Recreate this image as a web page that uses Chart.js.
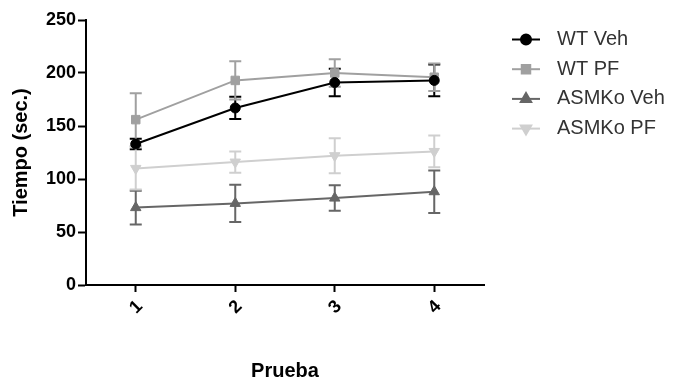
<!DOCTYPE html>
<html>
<head>
<meta charset="utf-8">
<script src="https://cdn.jsdelivr.net/npm/chart.js@4/dist/chart.umd.min.js"></script>
<style>
  html, body { margin: 0; padding: 0; background: #fff; }
  #wrap { width: 676px; height: 385px; position: relative; }
</style>
</head>
<body>
<div id="wrap"><canvas id="myChart"></canvas></div>
<script>
// trials (Prueba)
var pruebas = [1, 2, 3, 4]
var tickLabels = ["1", "2", "3", "4"]
var yTicks = [0, 50, 100, 150, 200, 250]

var seriesNames = ["WT Veh", "WT PF", "ASMKo Veh", "ASMKo PF"]

// mean time (sec.) and error per trial
var wtVeh = [133, 167, 191, 193]
var wtVehErr = [5, 10.5, 13, 15]
var wtPF = [156, 193, 200, 196]
var wtPFErr = [25, 18, 13, 13]
var asmVeh = [73, 77, 82, 88]
var asmVehErr = [16, 17.5, 12, 20]
var asmPF = [110, 116, 122, 126]
var asmPFErr = [20, 10, 16.5, 15]

const FONT = "'Liberation Sans', Arial, sans-serif"

const toPoints = (vals) => vals.map((v, i) => ({x: pruebas[i], y: v}))

const mkSet = (label, vals, errs, color, style, radius, rot) => ({
  label: label,
  data: toPoints(vals),
  errors: errs,
  borderColor: color,
  backgroundColor: color,
  pointBackgroundColor: color,
  pointBorderColor: color,
  pointStyle: style,
  pointRadius: radius,
  pointRotation: rot,
  pointBorderWidth: 1,
  borderWidth: 2,
  tension: 0,
  showLine: true
})

// vertical error bars with caps, drawn under the markers
const errorBars = {
  id: 'errorBars',
  beforeDatasetsDraw(chart) {
    const ctx = chart.ctx
    const ys = chart.scales.y
    chart.data.datasets.forEach((ds, di) => {
      const meta = chart.getDatasetMeta(di)
      ctx.save()
      ctx.strokeStyle = ds.borderColor
      ctx.lineWidth = 2
      meta.data.forEach((pt, i) => {
        const v = ds.data[i].y, e = ds.errors[i]
        const top = ys.getPixelForValue(v + e)
        const bot = ys.getPixelForValue(v - e)
        ctx.beginPath()
        ctx.moveTo(pt.x, top); ctx.lineTo(pt.x, bot)
        ctx.moveTo(pt.x - 6, top); ctx.lineTo(pt.x + 6, top)
        ctx.moveTo(pt.x - 6, bot); ctx.lineTo(pt.x + 6, bot)
        ctx.stroke()
      })
      ctx.restore()
    })
  }
}

// legend on the right: line + marker + label
const sideLegend = {
  id: 'sideLegend',
  afterDraw(chart) {
    const ctx = chart.ctx
    ctx.save()
    chart.data.datasets.forEach((ds, i) => {
      const y = 39.5 + i * 29.7
      ctx.strokeStyle = ds.borderColor
      ctx.lineWidth = 2
      ctx.beginPath()
      ctx.moveTo(512, y); ctx.lineTo(540, y)
      ctx.stroke()
      ctx.fillStyle = ds.borderColor
      Chart.helpers.drawPoint(ctx, {
        pointStyle: ds.pointStyle, radius: ds.pointRadius, borderWidth: 1, rotation: ds.pointRotation
      }, 526, y)
      ctx.fillStyle = '#333'
      ctx.font = "20px " + FONT
      ctx.textBaseline = 'middle'
      ctx.textAlign = 'left'
      ctx.fillText(ds.label, 557, y)
    })
    ctx.restore()
  }
}

const data = {
  datasets: [
    mkSet(seriesNames[0], wtVeh, wtVehErr, '#000000', 'circle', 5, 0),
    mkSet(seriesNames[1], wtPF, wtPFErr, '#a0a0a0', 'rect', 6, 0),
    mkSet(seriesNames[2], asmVeh, asmVehErr, '#666666', 'triangle', 6, 0),
    mkSet(seriesNames[3], asmPF, asmPFErr, '#cfcfcf', 'triangle', 6, 180)
  ]
}

const config = {
  type: 'scatter',
  data: data,
  options: {
    responsive: true,
    maintainAspectRatio: false,
    animation: false,
    layout: { padding: { top: 20, right: 192, bottom: 0, left: 0 } },
    plugins: { legend: { display: false }, tooltip: { enabled: false } },
    scales: {
      x: {
        type: 'linear',
        min: 0.5,
        max: 4.5,
        afterBuildTicks: (s) => { s.ticks = pruebas.map(v => ({value: v})) },
        afterFit: (s) => { s.height = 100 },
        grid: { drawOnChartArea: false, drawTicks: true, tickLength: 7, tickWidth: 2, tickColor: '#000' },
        border: { color: '#000', width: 2 },
        ticks: {
          color: '#000',
          font: { family: FONT, size: 18, weight: 'bold' },
          minRotation: 45, maxRotation: 45,
          padding: 4,
          labelOffset: 4,
          callback: (v, i) => tickLabels[i]
        },
        title: {
          display: true, text: 'Prueba', color: '#000',
          font: { family: FONT, size: 20, weight: 'bold' },
          padding: { top: 0, bottom: 2 }
        }
      },
      y: {
        min: 0,
        max: 250,
        afterBuildTicks: (s) => { s.ticks = yTicks.map(v => ({value: v})) },
        afterFit: (s) => { s.width = 86 },
        grid: { drawOnChartArea: false, drawTicks: true, tickLength: 8, tickWidth: 2, tickColor: '#000' },
        border: { color: '#000', width: 2 },
        ticks: {
          color: '#000',
          font: { family: FONT, size: 18, weight: 'bold' },
          padding: 2
        },
        title: {
          display: true, text: 'Tiempo (sec.)', color: '#000',
          font: { family: FONT, size: 20, weight: 'bold' },
          padding: { top: 9, bottom: 0 }
        }
      }
    }
  },
  plugins: [errorBars, sideLegend]
}

var myChart = new Chart("myChart", config)
</script>
</body>
</html>
